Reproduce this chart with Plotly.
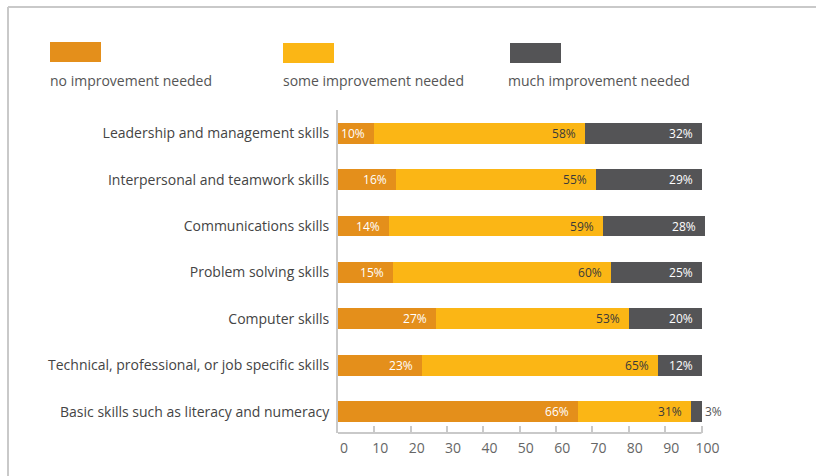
import plotly.graph_objects as go

# Skills and share of respondents (%) by level of improvement needed
skills = [
    "Leadership and management skills",
    "Interpersonal and teamwork skills",
    "Communications skills",
    "Problem solving skills",
    "Computer skills",
    "Technical, professional, or job specific skills",
    "Basic skills such as literacy and numeracy",
]
no_improvement = [10, 16, 14, 15, 27, 23, 66]
some_improvement = [58, 55, 59, 60, 53, 65, 31]
much_improvement = [32, 29, 28, 25, 20, 12, 3]

series_names = ["no improvement needed", "some improvement needed", "much improvement needed"]
series_values = [no_improvement, some_improvement, much_improvement]
series_colors = ["#E48F1B", "#FBB615", "#545456"]
label_colors = ["#FFFFFF", "#3A3A3A", "#FFFFFF"]

x_ticks = [0, 10, 20, 30, 40, 50, 60, 70, 80, 90, 100]

FONT = "Open Sans"
W, H = 816, 476
ML, MR, MT, MB = 338, 109, 110, 43
PW, PH = W - ML - MR, H - MT - MB


def px_x(p):
    return (p - ML) / PW


def px_y(p):
    return (H - MB - p) / PH


fig = go.Figure()
for name, vals, col, lcol in zip(series_names, series_values, series_colors, label_colors):
    # segments too narrow for their label get it just past the bar end
    narrow = [v < 6 for v in vals]
    fig.add_trace(go.Bar(
        name=name,
        y=skills,
        x=vals,
        orientation="h",
        marker=dict(color=col, line=dict(width=0)),
        width=0.45,
        text=[f"{v}%" if n else f"{v}%&nbsp;&nbsp;" for v, n in zip(vals, narrow)],
        textposition=["outside" if n else "inside" for n in narrow],
        insidetextanchor="end",
        textangle=0,
        constraintext="none",
        cliponaxis=False,
        textfont=dict(family=FONT, size=12,
                      color=["#545456" if n else lcol for n in narrow]),
        outsidetextfont=dict(family=FONT, size=12, color="#545456"),
        hoverinfo="skip",
    ))

shapes = []
annotations = []
# Legend: colour swatch above each series name
legend_x = [50, 283, 510]
legend_text_x = [50, 283, 508]
legend_top = [42, 43, 43]
for lx, tx, ty, name, col in zip(legend_x, legend_text_x, legend_top, series_names, series_colors):
    shapes.append(dict(type="rect", xref="paper", yref="paper",
                       x0=px_x(lx), x1=px_x(lx + 51), y0=px_y(ty + 20), y1=px_y(ty),
                       fillcolor=col, line=dict(width=0), layer="above"))
    annotations.append(dict(xref="paper", yref="paper", x=px_x(tx - 2), y=px_y(80),
                            text=name, showarrow=False, xanchor="left", yanchor="middle",
                            font=dict(family=FONT, size=14, color="#555555")))

# Frame lines along the top and left of the panel
border = "#C9C9C9"
shapes.append(dict(type="line", xref="paper", yref="paper",
                   x0=px_x(8), x1=px_x(W + 5), y0=px_y(7), y1=px_y(7),
                   line=dict(color=border, width=2)))
shapes.append(dict(type="line", xref="paper", yref="paper",
                   x0=px_x(8), x1=px_x(8), y0=px_y(7), y1=px_y(H + 5),
                   line=dict(color=border, width=2)))
# Horizontal axis baseline from 0 to 100
shapes.append(dict(type="line", xref="x", yref="paper",
                   x0=0, x1=100, y0=0, y1=0,
                   line=dict(color=border, width=2)))

fig.update_layout(
    width=W, height=H,
    margin=dict(l=ML, r=MR, t=MT, b=MB),
    barmode="stack",
    bargap=0,
    showlegend=False,
    paper_bgcolor="white",
    plot_bgcolor="white",
    font=dict(family=FONT),
    shapes=shapes,
    annotations=annotations,
    xaxis=dict(
        range=[0, 101.5],
        tickvals=x_ticks,
        ticktext=[str(t) for t in x_ticks],
        ticks="inside", ticklen=7, tickwidth=2, tickcolor=border,
        showline=False, showgrid=False, zeroline=False,
        tickfont=dict(family=FONT, size=14, color="#666666"),
        ticklabelshift=6,
        ticklabelstandoff=5,
        fixedrange=True,
    ),
    yaxis=dict(
        range=[6.46, -0.5],
        showline=True, linecolor=border, linewidth=2,
        ticks="", showgrid=False, zeroline=False,
        tickfont=dict(family=FONT, size=14, color="#444444"),
        ticklabelstandoff=4,
        fixedrange=True,
    ),
)

fig.write_html("out.html")
